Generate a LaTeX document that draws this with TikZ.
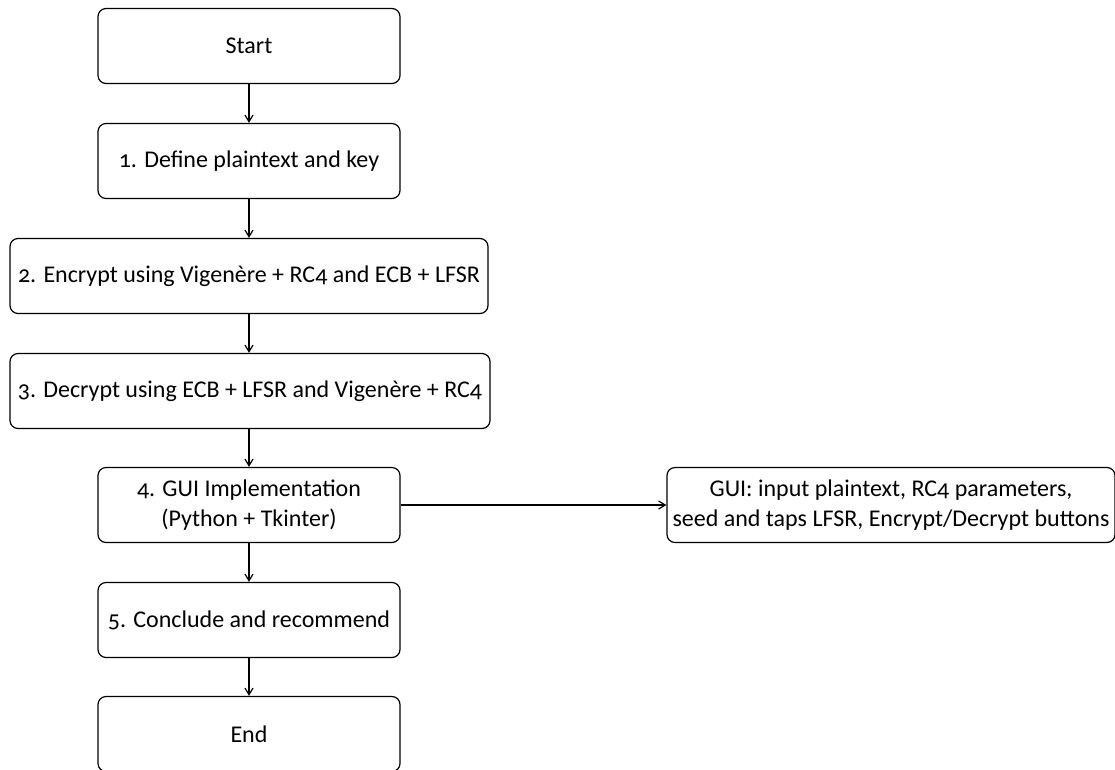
\documentclass[tikz,border=0pt]{standalone}
\usepackage{fontspec}
\setmainfont{Carlito}[Numbers=OldStyle]
\usepackage{tikz}
\usetikzlibrary{arrows.meta}

\tikzset{
  stepbox/.style={draw, rounded corners=6pt, line width=0.9pt, align=center,
    minimum height=56.25pt, inner sep=0pt, font=\fontsize{18}{22.5}\selectfont},
  flowarrow/.style={-{Straight Barb[length=5pt,width=6pt]}, line width=0.9pt}
}

\begin{document}
\begin{tikzpicture}[x=0.75pt,y=0.75pt,yscale=-1,xscale=1]
%set diagram size 1115 x 769
\useasboundingbox (0,0) rectangle (1115,769);

% Text Node
\node [stepbox, minimum width=226.5pt] (start) at (249,46) {Start};
% Text Node
\node [stepbox, minimum width=226.5pt] (define) at (249,161) {1. Define plaintext and key};
% Text Node
\node [stepbox, minimum width=358.5pt] (encrypt) at (249,276) {2. Encrypt using Vigenère + RC4 and ECB + LFSR};
% Text Node
\node [stepbox, minimum width=360pt] (decrypt) at (250,391) {3. Decrypt using ECB + LFSR and Vigenère + RC4};
% Text Node
\node [stepbox, minimum width=226.5pt] (gui) at (249,505) {4. GUI Implementation\\(Python + Tkinter)};
% Text Node
\node [stepbox, minimum width=226.5pt] (conclude) at (249,620) {5. Conclude and recommend};
% Text Node
\node [stepbox, minimum width=226.5pt] (end) at (249,734) {End};
% Text Node
\node [stepbox, minimum width=336pt] (guidesc) at (891,505) {GUI: input plaintext, RC4 parameters,\\seed and taps LFSR, Encrypt/Decrypt buttons};

%Straight Lines
\draw [flowarrow] (start) -- (define);
\draw [flowarrow] (define) -- (encrypt);
\draw [flowarrow] (encrypt) -- (encrypt |- decrypt.north);
\draw [flowarrow] (decrypt.south -| gui) -- (gui);
\draw [flowarrow] (gui) -- (conclude);
\draw [flowarrow] (conclude) -- (end);
\draw [flowarrow] (gui) -- (guidesc);

\end{tikzpicture}
\end{document}
